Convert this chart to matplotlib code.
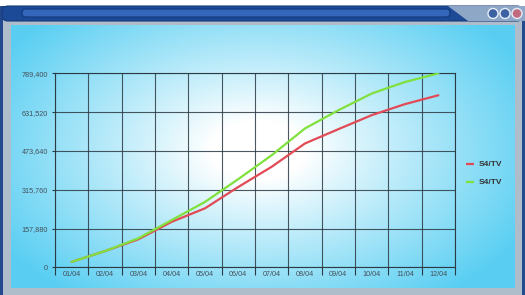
import numpy as np
import matplotlib
matplotlib.use("Agg")
import matplotlib.pyplot as plt
from matplotlib.patches import Rectangle, FancyBboxPatch, Circle, Polygon
from matplotlib.ticker import FuncFormatter, FixedLocator

categories = ["01/04", "02/04", "03/04", "04/04", "05/04", "06/04",
              "07/04", "08/04", "09/04", "10/04", "11/04", "12/04"]
red_values = [22000, 66000, 114000, 185000, 240000, 327000,
              409000, 504000, 562000, 619000, 664000, 700000]
green_values = [22000, 66000, 118000, 192000, 266000, 359000,
                456000, 565000, 639000, 707000, 754000, 789000]
series_names = ["S4/TV", "S4/TV"]
y_ticks = [0, 157880, 315760, 473640, 631520, 789400]

plt.rcParams['font.family'] = ['Liberation Sans', 'DejaVu Sans']

W, H = 525, 295
fig = plt.figure(figsize=(W / 100, H / 100), dpi=100)
fig.patch.set_facecolor("white")

# ---- background / window frame (pixel coordinates) ----
bg = fig.add_axes([0, 0, 1, 1])
bg.set_xlim(0, W)
bg.set_ylim(H, 0)
bg.axis("off")

# window body
bg.add_patch(Rectangle((0, 6), W, H - 6, facecolor="#23498f", edgecolor="none", zorder=0))
bg.add_patch(Rectangle((3, 20), W - 6, H - 20, facecolor="#aebdc9", edgecolor="none", zorder=1))

# title bar
bg.add_patch(FancyBboxPatch((2, 6), W - 4, 15, boxstyle="round,pad=0,rounding_size=6",
                            facecolor="#1d4a97", edgecolor="#163a7a", lw=0.8, zorder=2))
bg.add_patch(FancyBboxPatch((22, 9), 428, 8, boxstyle="round,pad=0,rounding_size=4",
                            facecolor="#3467bb", edgecolor="#12387a", lw=0.8, zorder=3))
bg.add_patch(Polygon([[448, 6], [525, 6], [525, 21], [468, 21]], closed=True,
                     facecolor="#8fa7c6", edgecolor="none", zorder=3))
for cx, col in zip([493, 505, 517], ["#3d62a3", "#3d62a3", "#c06b80"]):
    bg.add_patch(Circle((cx, 13.5), 5, facecolor=col, edgecolor="#e6eef8", lw=1.0, zorder=4))

# gradient panel
px0, px1, py0, py1 = 11, 515, 25, 288
xs = np.linspace(px0, px1, 300)
ys = np.linspace(py0, py1, 200)
X, Y = np.meshgrid(xs, ys)
d = np.sqrt(((X - 258) / 300) ** 2 + ((Y - 150) / 185) ** 2)
t = np.clip((d - 0.16) / 0.84, 0, 1) ** 0.95
white = np.array([1.0, 1.0, 1.0])
cyan = np.array([0.35, 0.81, 0.95])
img = white[None, None, :] * (1 - t[..., None]) + cyan[None, None, :] * t[..., None]
bg.imshow(img, extent=[px0, px1, py1, py0], aspect="auto", zorder=5, interpolation="bilinear")
bg.set_xlim(0, W)
bg.set_ylim(H, 0)

# ---- chart ----
ax = fig.add_axes([55 / W, (H - 267.3) / H, 400 / W, 194 / H])
ax.set_facecolor("none")
n = len(categories)
xpos = np.arange(n) + 0.5
ax.plot(xpos, red_values, color="#e24a56", lw=1.6, solid_capstyle="round",
        solid_joinstyle="round", zorder=3)
ax.plot(xpos, green_values, color="#80e03c", lw=1.6, solid_capstyle="round",
        solid_joinstyle="round", zorder=3)

ax.set_xlim(0, n)
ax.set_ylim(0, y_ticks[-1])
ax.xaxis.set_major_locator(FixedLocator(np.arange(n + 1)))
ax.xaxis.set_minor_locator(FixedLocator(xpos))
ax.set_xticklabels([], minor=False)
ax.set_xticklabels(categories, minor=True)
ax.tick_params(axis="x", which="major", length=5.5, width=0.8, color="#2c3a44", direction="out")
ax.tick_params(axis="x", which="minor", length=0, pad=3, labelsize=5.2, labelcolor="#44505a")
ax.set_yticks(y_ticks)
ax.yaxis.set_major_formatter(FuncFormatter(lambda v, p: f"{int(round(v)):,}"))
ax.tick_params(axis="y", length=2.5, width=0.8, color="#2c3a44", pad=2.5,
               labelsize=5.2, labelcolor="#44505a")
ax.grid(True, which="major", color="#2c3a44", lw=0.8, alpha=0.85)
for s in ["left", "bottom", "right", "top"]:
    ax.spines[s].set_color("#2c3a44")
    ax.spines[s].set_linewidth(0.8)
ax.set_axisbelow(True)

# legend (pixel coords in bg)
for yy, col, name in [(164, "#e24a56", series_names[0]), (182, "#80e03c", series_names[1])]:
    bg.plot([466, 474], [yy, yy], color=col, lw=1.6, zorder=6, solid_capstyle="butt")
    bg.text(479, yy, name, fontsize=6, fontweight="bold", color="#333333",
            va="center", ha="left", zorder=6)

fig.savefig("out.png", dpi=100)
